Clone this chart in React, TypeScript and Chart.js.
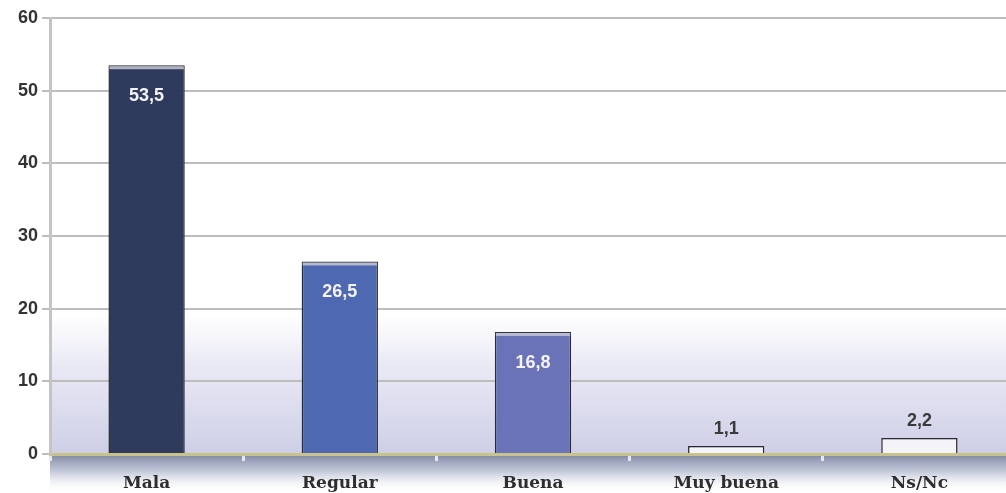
import React, { useEffect, useRef } from "react";
import { Chart, registerables } from "chart.js";

Chart.register(...registerables);

const categories = ["Mala", "Regular", "Buena", "Muy buena", "Ns/Nc"];
const values = [53.5, 26.5, 16.8, 1.1, 2.2];
const barColors = ["#2e3b5c", "#4e69b2", "#6a73b8", "#f3f3f8", "#f3f3f8"];
const insideLabel = [true, true, true, false, false];
const yTicks = [0, 10, 20, 30, 40, 50, 60];

const bgPlugin = {
  id: "bg",
  beforeDraw(chart: any) {
    const { ctx, chartArea: a, width, height } = chart;
    ctx.save();
    ctx.fillStyle = "#ffffff";
    ctx.fillRect(0, 0, width, height);
    const g = ctx.createLinearGradient(0, a.top + (a.bottom - a.top) * 0.68, 0, a.bottom);
    g.addColorStop(0, "rgba(225,225,240,0)");
    g.addColorStop(0.4, "rgba(225,225,242,0.8)");
    g.addColorStop(1, "rgba(205,205,230,1)");
    ctx.fillStyle = g;
    ctx.fillRect(a.left, a.top, width - a.left, a.bottom - a.top);
    const g2 = ctx.createLinearGradient(0, a.bottom, 0, height);
    g2.addColorStop(0, "rgba(110,120,150,0.9)");
    g2.addColorStop(0.45, "rgba(165,172,198,0.65)");
    g2.addColorStop(1, "rgba(255,255,255,0)");
    ctx.fillStyle = g2;
    ctx.fillRect(a.left, a.bottom, width - a.left, height - a.bottom);
    ctx.restore();
  },
};

const labelPlugin = {
  id: "vals",
  afterDatasetsDraw(chart: any) {
    const { ctx } = chart;
    const meta = chart.getDatasetMeta(0);
    ctx.save();
    meta.data.forEach((bar: any, i: number) => {
      const w = bar.width;
      if (insideLabel[i]) {
        ctx.fillStyle = "rgba(200,200,215,0.85)";
        ctx.fillRect(bar.x - w / 2 + 1, bar.y + 1, w - 2, 3);
      }
      const txt = values[i].toFixed(1).replace(".", ",");
      ctx.font = "bold 18px 'Liberation Sans', Arial, sans-serif";
      ctx.textAlign = "center";
      ctx.textBaseline = "middle";
      if (insideLabel[i]) {
        ctx.fillStyle = "#f4f4fa";
        ctx.fillText(txt, bar.x, bar.y + 31);
      } else {
        ctx.fillStyle = "#3a3a3a";
        ctx.fillText(txt, bar.x, bar.y - 17);
      }
    });
    ctx.restore();
  },
};

export default function App() {
  const ref = useRef<HTMLCanvasElement>(null);
  useEffect(() => {
    document.body.style.margin = "0";
    document.body.style.overflow = "hidden";
    const chart = new Chart(ref.current!, {
      type: "bar",
      data: {
        labels: categories,
        datasets: [
          {
            data: values,
            backgroundColor: barColors,
            borderColor: "#2a2a33",
            borderWidth: 1.5,
            barPercentage: 0.395,
            categoryPercentage: 1,
          },
        ],
      },
      options: {
        animation: false,
        responsive: false,
        devicePixelRatio: 1,
        layout: { padding: { top: 18, right: 0, left: 0, bottom: 0 } },
        plugins: { legend: { display: false }, tooltip: { enabled: false } },
        scales: {
          x: {
            offset: true,
            grid: {
              display: true,
              drawOnChartArea: false,
              offset: true,
              color: "#e6e6ee",
              lineWidth: 3,
              tickLength: 7,
            },
            border: { display: true, color: "#c9c28a", width: 3 },
            ticks: {
              color: "#2e2e2e",
              padding: 12,
              font: { family: "'DejaVu Serif', serif", size: 17, weight: "bold" },
            },
            afterFit(scale: any) {
              scale.height = 39;
            },
          },
          y: {
            min: 0,
            max: 60,
            afterBuildTicks(scale: any) {
              scale.ticks = yTicks.map((v) => ({ value: v }));
            },
            grid: { color: "#bdbdbd", lineWidth: 2, tickLength: 8 },
            border: { display: true, color: "#c4c4c4", width: 3 },
            ticks: {
              color: "#333333",
              padding: 4,
              font: { family: "'Liberation Sans', Arial, sans-serif", size: 18, weight: "bold" },
            },
            afterFit(scale: any) {
              scale.width = 50;
            },
          },
        },
      },
      plugins: [bgPlugin, labelPlugin],
    });
    return () => chart.destroy();
  }, []);
  return (
    <div style={{ width: 1006, height: 493, overflow: "hidden" }}>
      <canvas ref={ref} width={1016} height={493} style={{ display: "block" }} />
    </div>
  );
}
